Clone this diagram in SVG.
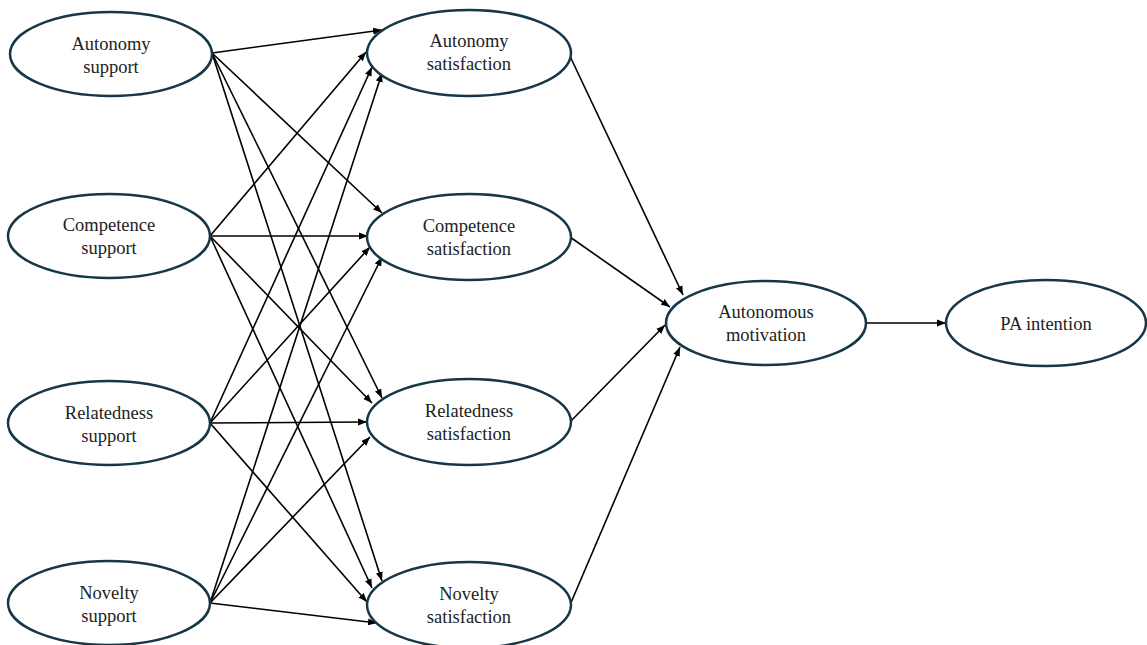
<svg xmlns="http://www.w3.org/2000/svg" width="1147" height="645" viewBox="0 0 1147 645">
<defs>
<marker id="ah" markerUnits="userSpaceOnUse" markerWidth="10" markerHeight="8" refX="9" refY="4" orient="auto">
<path d="M0,0.5 L9,4 L0,7.5 Z" fill="#000"/>
</marker>
<style>
.node ellipse{fill:#fff;stroke:#173749;stroke-width:2.5}
.node text{font-size:18.5px;fill:#222;text-anchor:middle}
#connectors line{stroke:#000;stroke-width:1.6;marker-end:url(#ah)}
</style>
</defs>
<rect width="1147" height="645" fill="#fff"/>
<g id="connectors">
<line x1="212" y1="53" x2="382" y2="30"/>
<line x1="212" y1="53" x2="382" y2="213"/>
<line x1="212" y1="53" x2="382" y2="398"/>
<line x1="212" y1="53" x2="382" y2="581"/>
<line x1="210" y1="236" x2="366" y2="52"/>
<line x1="210" y1="236" x2="368" y2="236"/>
<line x1="210" y1="236" x2="372" y2="403"/>
<line x1="210" y1="236" x2="372" y2="588"/>
<line x1="210" y1="423" x2="372" y2="67"/>
<line x1="210" y1="423" x2="370" y2="247"/>
<line x1="210" y1="423" x2="367" y2="422"/>
<line x1="210" y1="423" x2="367" y2="602"/>
<line x1="210" y1="603" x2="382" y2="73"/>
<line x1="210" y1="603" x2="382" y2="257"/>
<line x1="210" y1="603" x2="370" y2="437"/>
<line x1="210" y1="603" x2="377" y2="623"/>
<line x1="568" y1="52" x2="683" y2="295"/>
<line x1="570" y1="237" x2="670" y2="307"/>
<line x1="570" y1="422" x2="665" y2="325"/>
<line x1="570" y1="605" x2="680" y2="347"/>
<line x1="866" y1="323" x2="946" y2="323"/>
</g>
<g font-family="Liberation Serif, Times New Roman, DejaVu Serif, serif">
<g id="autonomy-support" class="node"><ellipse cx="111" cy="54" rx="101" ry="42"/><text x="111" y="50">Autonomy</text><text x="111" y="73">support</text></g>
<g id="competence-support" class="node"><ellipse cx="109" cy="236" rx="101" ry="42"/><text x="109" y="231">Competence</text><text x="109" y="254">support</text></g>
<g id="relatedness-support" class="node"><ellipse cx="109" cy="423" rx="101" ry="42"/><text x="109" y="419">Relatedness</text><text x="109" y="442">support</text></g>
<g id="novelty-support" class="node"><ellipse cx="109" cy="603" rx="101" ry="42"/><text x="109" y="599">Novelty</text><text x="109" y="622">support</text></g>
<g id="autonomy-satisfaction" class="node"><ellipse cx="469" cy="53" rx="102" ry="43"/><text x="469" y="47">Autonomy</text><text x="469" y="70">satisfaction</text></g>
<g id="competence-satisfaction" class="node"><ellipse cx="469" cy="237" rx="102" ry="43"/><text x="469" y="232">Competence</text><text x="469" y="255">satisfaction</text></g>
<g id="relatedness-satisfaction" class="node"><ellipse cx="469" cy="422" rx="102" ry="43"/><text x="469" y="417">Relatedness</text><text x="469" y="440">satisfaction</text></g>
<g id="novelty-satisfaction" class="node"><ellipse cx="469" cy="605" rx="102" ry="43"/><text x="469" y="600">Novelty</text><text x="469" y="623">satisfaction</text></g>
<g id="autonomous-motivation" class="node"><ellipse cx="766" cy="323" rx="100" ry="42"/><text x="766" y="318">Autonomous</text><text x="766" y="341">motivation</text></g>
<g id="pa-intention" class="node"><ellipse cx="1046" cy="323" rx="100" ry="43"/><text x="1046" y="330">PA intention</text></g>
</g>
</svg>
